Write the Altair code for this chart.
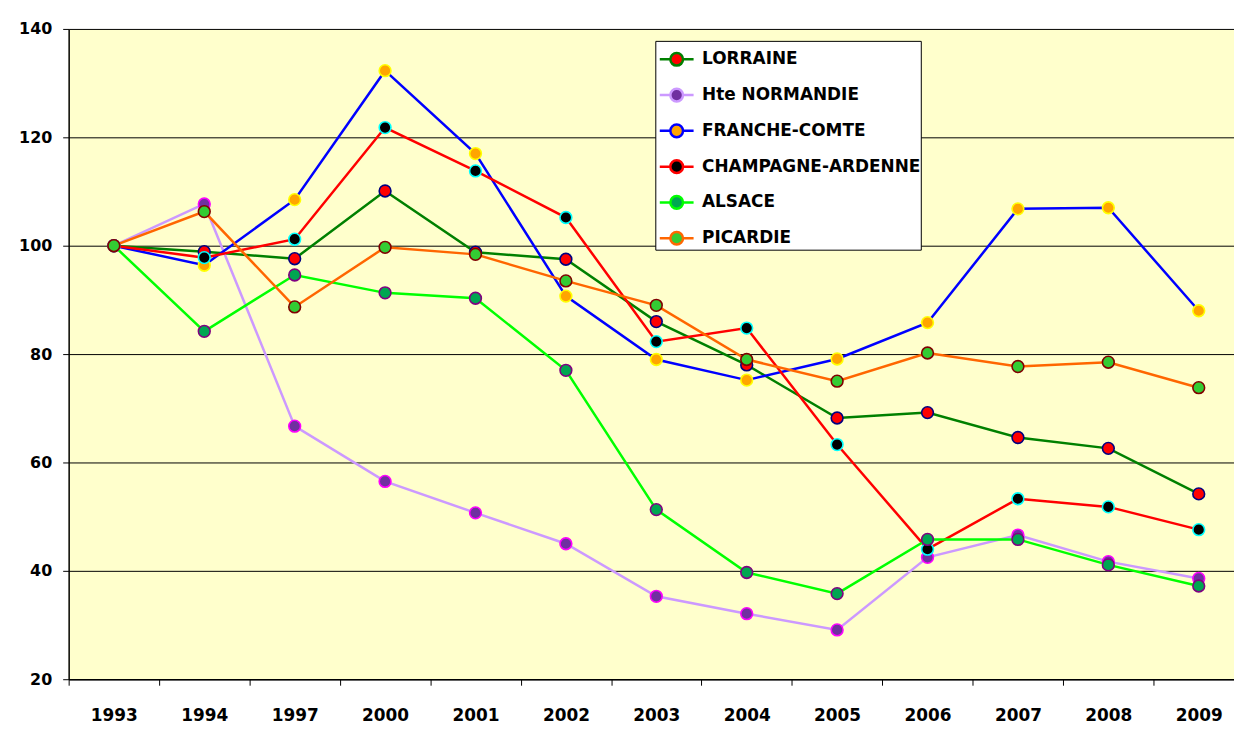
import altair as alt
import pandas as pd

years = ["1993", "1994", "1997", "2000", "2001", "2002", "2003",
         "2004", "2005", "2006", "2007", "2008", "2009"]
series_names = ["LORRAINE", "Hte NORMANDIE", "FRANCHE-COMTE",
                "CHAMPAGNE-ARDENNE", "ALSACE", "PICARDIE"]

lorraine = [100, 98.9, 97.6, 110.1, 98.8, 97.5, 86.0, 78.0, 68.2, 69.2, 64.6, 62.6, 54.2]
normandie = [100, 107.7, 66.7, 56.5, 50.7, 45.0, 35.3, 32.1, 29.1, 42.5, 46.6, 41.7, 38.6]
franche = [100, 96.4, 108.5, 132.3, 117.0, 90.7, 79.0, 75.2, 79.1, 85.8, 106.8, 107.0, 88.0]
champagne = [100, 97.8, 101.2, 121.8, 113.8, 105.2, 82.3, 84.8, 63.3, 44.0, 53.3, 51.8, 47.6]
alsace = [100, 84.2, 94.6, 91.3, 90.3, 77.0, 51.3, 39.7, 35.8, 45.8, 45.8, 41.1, 37.2]
picardie = [100, 106.3, 88.7, 99.7, 98.4, 93.5, 89.0, 79.0, 75.0, 80.2, 77.7, 78.5, 73.8]

line_colors = ["#008000", "#CC99FF", "#0000FF", "#FF0000", "#00FF00", "#FF6600"]
marker_fill = ["#FF0000", "#7030A0", "#FFA500", "#000000", "#00A651", "#33CC33"]
marker_edge = ["#000080", "#FF00FF", "#FFFF00", "#00FFFF", "#800080", "#800000"]

rows = []
for name, vals, edge in zip(series_names,
                            [lorraine, normandie, franche, champagne, alsace, picardie],
                            marker_edge):
    for i, (yr, v) in enumerate(zip(years, vals)):
        rows.append({"year": yr, "series": name, "value": v, "order": i, "edge": edge})
df = pd.DataFrame(rows)

FONT = "DejaVu Sans"
sym = ("M-1,0L-0.375,0M0.375,0L1,0"
       "M0.375,0A0.375,0.375 0 1 1 -0.375,0A0.375,0.375 0 1 1 0.375,0Z")
leg = dict(title=None, orient="none", legendX=590, legendY=12,
           symbolType=sym, symbolSize=1156, symbolStrokeWidth=2.5,
           symbolOffset=3,
           labelFont=FONT, labelFontSize=17, labelFontWeight="bold",
           labelColor="black", fillColor="white", strokeColor="black",
           padding=0, rowPadding=6, labelOffset=7, labelLimit=400)

x = alt.X("year:O", sort=years,
          scale=alt.Scale(type="band", paddingInner=0, paddingOuter=0, range=[0, 1182]),
          axis=alt.Axis(title=None, tickBand="extent", labelAngle=0,
                        labelFont=FONT, labelFontSize=17, labelFontWeight="bold",
                        labelColor="black", labelPadding=23, tickSize=6,
                        tickColor="black", domainColor="black", domainWidth=1.5))
y = alt.Y("value:Q", scale=alt.Scale(domain=[20, 140], nice=False, zero=False),
          axis=alt.Axis(title=None, values=[20, 40, 60, 80, 100, 120, 140],
                        labelFont=FONT, labelFontSize=16, labelFontWeight="bold",
                        labelColor="black", labelPadding=11, tickSize=6,
                        tickColor="black", domainColor="black", domainWidth=1.5,
                        grid=True, gridColor="black", gridWidth=1))

lines = alt.Chart(df).mark_line(strokeWidth=2.5).encode(
    x=x, y=y,
    stroke=alt.Stroke("series:N", scale=alt.Scale(domain=series_names, range=line_colors),
                      legend=alt.Legend(**leg)),
    order=alt.Order("order:Q"),
)
points = alt.Chart(df).mark_circle(size=140, opacity=1, strokeWidth=1.6).encode(
    x=x, y=y,
    fill=alt.Fill("series:N", scale=alt.Scale(domain=series_names, range=marker_fill),
                  legend=alt.Legend(**leg)),
    stroke=alt.Stroke("edge:N", scale=None),
)

chart = alt.layer(lines, points).properties(
    width=1172, height=654, background="white",
    padding={"left": 61, "top": 19, "right": 0, "bottom": 48},
    autosize=alt.AutoSizeParams(type="none"),
).configure_view(fill="#FFFFCC", stroke=None)

chart.save("out.html", embed_options={"renderer": "svg", "actions": False})
